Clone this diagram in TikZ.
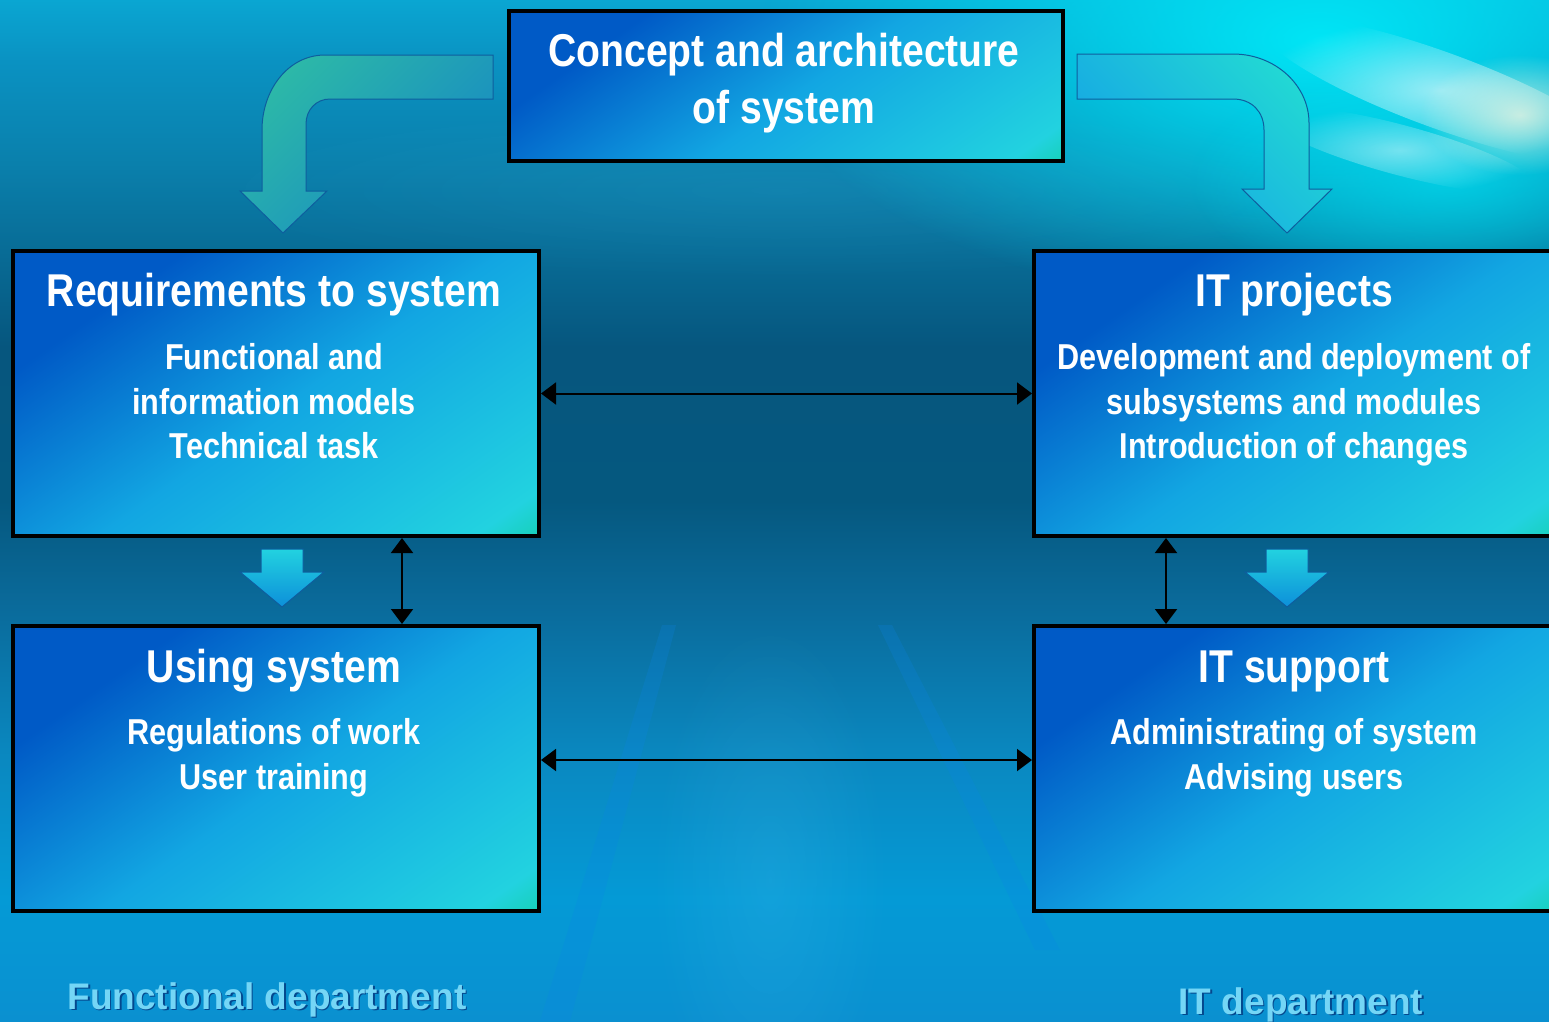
\documentclass[tikz,border=0pt]{standalone}
\usepackage{fontspec}
\setmainfont{Liberation Sans}
\newfontfamily\narrowfont{Liberation Sans}[FakeStretch=0.85]
\usetikzlibrary{arrows.meta,fadings}
\definecolor{bg0}{HTML}{0A90D0}
\definecolor{bg1}{HTML}{049AD6}
\definecolor{bg2}{HTML}{0A88C0}
\definecolor{bg3}{HTML}{0A6A9A}
\definecolor{bg4}{HTML}{05587F}
\definecolor{bg5}{HTML}{06567E}
\definecolor{bg6}{HTML}{0A80AC}
\definecolor{bg7}{HTML}{0A92C2}
\definecolor{bg8}{HTML}{0AA6D2}
\definecolor{bxg}{HTML}{12D0A8}
\definecolor{bxl}{HTML}{22D2E0}
\definecolor{bxm}{HTML}{12A6E2}
\definecolor{bxd}{HTML}{005AC6}
\definecolor{lbl}{HTML}{74D6F6}
\definecolor{arrline}{HTML}{0E5E9E}
\definecolor{glowcyan}{HTML}{00E6F6}
\definecolor{streak}{HTML}{0A84E8}
\definecolor{warmwhite}{HTML}{FFF8E0}
\definecolor{laTop}{HTML}{2CB8A8}
\definecolor{laBot}{HTML}{1688C4}
\definecolor{raTop}{HTML}{22D8D4}
\definecolor{raBot}{HTML}{14A0E6}
\pgfdeclareverticalshading{bgshade}{100bp}{color(0bp)=(bg0); color(25bp)=(bg0); color(31bp)=(bg1); color(38bp)=(bg2); color(45.5bp)=(bg3); color(50.5bp)=(bg4); color(58bp)=(bg5); color(67bp)=(bg6); color(72bp)=(bg7); color(75bp)=(bg8); color(100bp)=(bg8)}
\pgfdeclareverticalshading{boxshade}{100bp}{color(0bp)=(bxg); color(13bp)=(bxg); color(20bp)=(bxl); color(48bp)=(bxm); color(72bp)=(bxd); color(100bp)=(bxd)}
\tikzfading[name=glowfade, inner color=transparent!0, outer color=transparent!100]
\tikzset{
  box/.style={draw=black, line width=4pt, shading=boxshade, shading angle=35, anchor=north west, inner sep=0pt},
  ttl/.style={text=white, font=\narrowfont\bfseries\fontsize{46}{50}\selectfont, anchor=base, inner sep=0pt},
  sub/.style={text=white, font=\narrowfont\bfseries\fontsize{36}{40}\selectfont, anchor=base, inner sep=0pt},
  dept/.style={text=lbl, font=\bfseries\fontsize{37}{40}\selectfont, anchor=base, inner sep=0pt},
  deptshadow/.style={text=black!70!blue, opacity=0.5, font=\bfseries\fontsize{37}{40}\selectfont, anchor=base, inner sep=0pt},
  dbl/.style={{Triangle[width=22pt,length=15pt]}-{Triangle[width=22pt,length=15pt]}, line width=2pt, draw=black},
  bigarrow/.style={draw=arrline, line width=1pt},
  smallarrow/.style={draw=arrline, line width=1pt, top color=bxl, bottom color=bxm!70!bxd}
}
\begin{document}
\begin{tikzpicture}[x=1pt,y=-1pt]
\useasboundingbox (0,0) rectangle (1549,1021);
\clip (0,0) rectangle (1549,1021);
% background
\shade[shading=bgshade] (0,0) rectangle (1549,1021);
\fill[glowcyan, path fading=glowfade, opacity=1] (1320,40) ellipse (560 and 270);
\fill[glowcyan, path fading=glowfade, opacity=0.6] (1450,180) ellipse (260 and 120);
\fill[white, path fading=glowfade, opacity=0.6, rotate around={-20:(1440,90)}] (1440,90) ellipse (190 and 38);
\fill[white, path fading=glowfade, opacity=0.45, rotate around={-15:(1400,150)}] (1400,150) ellipse (140 and 25);
\fill[warmwhite, path fading=glowfade, opacity=0.7] (1520,115) ellipse (100 and 60);
\fill[cyan!70!white, path fading=glowfade, opacity=0.12] (780,190) ellipse (600 and 90);
\fill[cyan!60!white, path fading=glowfade, opacity=0.15] (770,880) ellipse (120 and 260);
\fill[streak, opacity=0.22] (540,1021) -- (662,625) -- (676,625) -- (570,1021) -- cycle;
\fill[streak, opacity=0.22] (1035,950) -- (878,625) -- (892,625) -- (1060,950) -- cycle;

% curved arrows
\path[bigarrow, shading=axis, top color=laTop, bottom color=laBot, shading angle=45]
  (493,55) -- (325,55) .. controls (288,55) and (262,90) .. (262,130) -- (262,191) -- (240,191) -- (283,233) -- (327,191) -- (306,191) -- (306,124) .. controls (306,110) and (316,99) .. (330,99) -- (493,99) -- cycle;
\path[bigarrow, shading=axis, top color=raTop, bottom color=raBot, shading angle=-45]
  (1077,54) -- (1233,54) .. controls (1275,54) and (1309,85) .. (1309,123) -- (1309,189) -- (1332,189) -- (1287,233) -- (1242,189) -- (1264,189) -- (1264,130) .. controls (1264,112) and (1252,99) .. (1233,99) -- (1077,99) -- cycle;
% small down arrows
\path[smallarrow] (261,549) -- (303,549) -- (303,572) -- (324,572) -- (282,607) -- (240,572) -- (261,572) -- cycle;
\path[smallarrow] (1266,549) -- (1308,549) -- (1308,572) -- (1329,572) -- (1287,607) -- (1245,572) -- (1266,572) -- cycle;

% boxes
\node[box, minimum width=554pt, minimum height=150pt] (top) at (507,9) {};
\node[box, minimum width=526pt, minimum height=285pt] (req) at (11,249) {};
\node[box, minimum width=526pt, minimum height=285pt] (itp) at (1032,249) {};
\node[box, minimum width=526pt, minimum height=285pt] (use) at (11,624) {};
\node[box, minimum width=526pt, minimum height=285pt] (its) at (1032,624) {};

% texts
\node[ttl] (topA) at (784,66) {Concept and architecture};
\node[ttl] (topB) at (784,123) {of system};

\node[ttl] (reqT) at (274,306) {Requirements to system};
\node[sub] (reqA) at (274,369) {Functional and};
\node[sub] (reqB) at (274,414) {information models};
\node[sub] (reqC) at (274,458) {Technical task};

\node[ttl] (itpT) at (1294,306) {IT projects};
\node[sub] (itpA) at (1294,369) {Development and deployment of};
\node[sub] (itpB) at (1294,414) {subsystems and modules};
\node[sub] (itpC) at (1294,458) {Introduction of changes};

\node[ttl] (useT) at (274,682) {Using system};
\node[sub] (useA) at (274,744) {Regulations of work};
\node[sub] (useB) at (274,789) {User training};

\node[ttl] (itsT) at (1294,682) {IT support};
\node[sub] (itsA) at (1294,744) {Administrating of system};
\node[sub] (itsB) at (1294,789) {Advising users};

% connectors
\draw[dbl] (req.east) -- (itp.west);
\draw[dbl] ([yshift=8.5pt]use.east) -- ([yshift=8.5pt]its.west);
\draw[dbl] ([xshift=391pt]req.south west) -- ([xshift=391pt]use.north west);
\draw[dbl] ([xshift=134pt]itp.south west) -- ([xshift=134pt]its.north west);

% department labels
\node[deptshadow] (fdS) at (268.5,1010.5) {Functional department};
\node[dept] (fd) at (267,1009) {Functional department};
\node[deptshadow] (itdS) at (1302.5,1015.5) {IT department};
\node[dept] (itd) at (1301,1014) {IT department};
\end{tikzpicture}
\end{document}
